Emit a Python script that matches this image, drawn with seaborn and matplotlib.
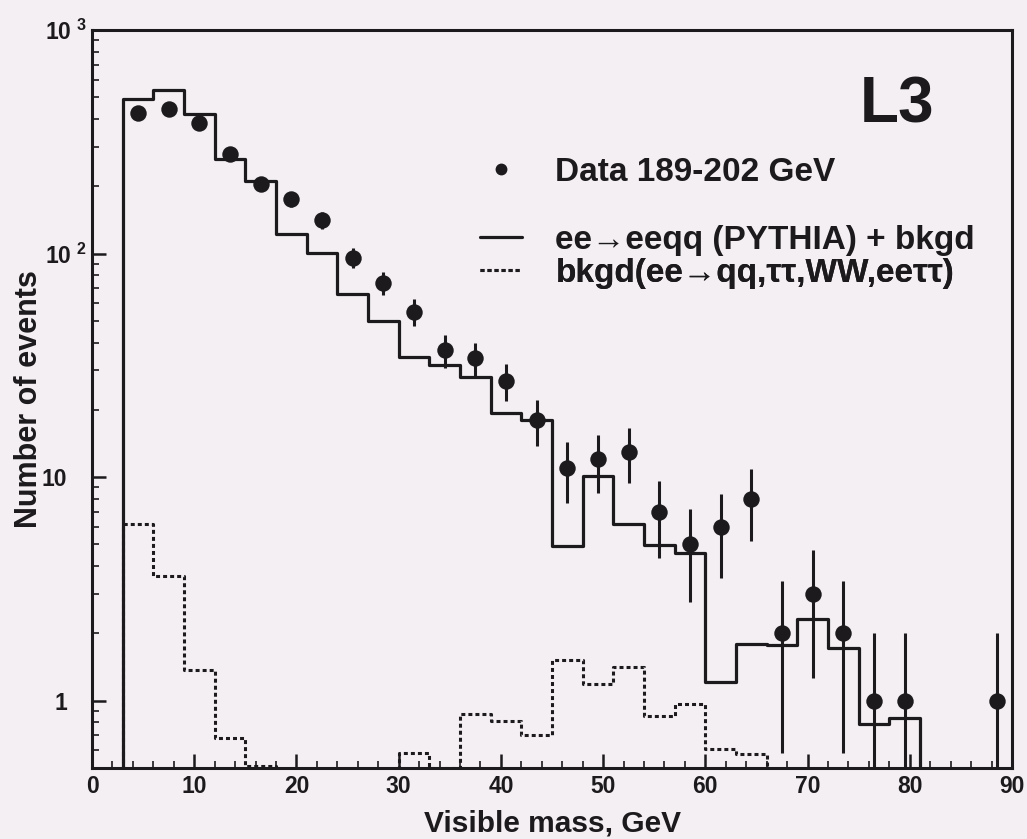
import numpy as np
import pandas as pd
import matplotlib
matplotlib.use("Agg")
import matplotlib.pyplot as plt
from matplotlib.ticker import FixedLocator, FixedFormatter, MultipleLocator, LogLocator, NullFormatter
from matplotlib.transforms import ScaledTranslation
from matplotlib.lines import Line2D
import seaborn as sns

# ---------------- data ----------------
bin_edges = list(range(0, 91, 3))            # visible mass bins, GeV
bin_centers = [(a + b) / 2 for a, b in zip(bin_edges[:-1], bin_edges[1:])]

mc_total = [0, 490, 540, 423, 266, 212, 122, 101, 66, 50,
            34.4, 31.8, 28, 19.4, 18.1, 4.9, 10.1, 6.2, 4.96, 4.6,
            1.21, 1.8, 1.77, 2.32, 1.73, 0.785, 0.833, 0, 0, 0]

bkgd = [0, 6.2, 3.6, 1.37, 0.68, 0.51, 0.45, 0, 0, 0,
        0.586, 0.5, 0.87, 0.81, 0.70, 1.52, 1.19, 1.41, 0.857, 0.966,
        0.607, 0.577, 0.45, 0, 0, 0, 0, 0, 0, 0]

data_counts = [0, 424, 445, 385, 280, 205, 175, 141, 96, 74,
               55, 37, 34, 27, 18, 11, 12, 13, 7, 5,
               6, 8, 2, 3, 2, 1, 1, 0, 0, 1]

y_ticks = [1, 10, 100, 1000]
y_ticklabels = ["1", "10", r"$\mathbf{10^{\ 2}}$", r"$\mathbf{10^{\ 3}}$"]
x_ticks = [0, 10, 20, 30, 40, 50, 60, 70, 80, 90]

label_data = "Data 189-202 GeV"
label_mc = "ee\u2192eeqq (PYTHIA) + bkgd"
label_bkgd = "bkgd(ee\u2192qq,\u03c4\u03c4,WW,ee\u03c4\u03c4)"

# ---------------- style ----------------
bg = "#f3eff3"
ink = "#1c1a1d"

sns.set_theme(style="ticks")
plt.rcParams["font.family"] = ["Liberation Sans", "DejaVu Sans"]
plt.rcParams["font.weight"] = "bold"
plt.rcParams["mathtext.fontset"] = "custom"
plt.rcParams["mathtext.bf"] = "Liberation Sans:bold"
plt.rcParams["mathtext.rm"] = "Liberation Sans:bold"

fig = plt.figure(figsize=(10.27, 8.39), dpi=100, facecolor=bg)
ax = fig.add_axes([0.0896, 0.0846, 0.8958, 0.8796])
ax.set_facecolor(bg)

hist_df = pd.DataFrame({"mass": bin_centers, "mc": mc_total, "bkgd": bkgd})

sns.histplot(data=hist_df, x="mass", weights="mc", bins=bin_edges,
             element="step", fill=False, color=ink, linewidth=2.3, ax=ax)
sns.histplot(data=hist_df, x="mass", weights="bkgd", bins=bin_edges,
             element="step", fill=False, color=ink, linewidth=2.2,
             linestyle=(0, (1.3, 1.0)), ax=ax)

counts = np.array(data_counts, dtype=float)
centers = np.array(bin_centers)
mask = counts > 0
dx = centers[mask]
dy = counts[mask]
err = np.sqrt(dy)
ax.errorbar(dx, dy, yerr=err, fmt="none", ecolor=ink, elinewidth=2.2, capsize=0, zorder=3)
sns.scatterplot(x=dx, y=dy, color=ink, s=140, edgecolor=ink, linewidth=0, zorder=4, ax=ax)

ax.set_yscale("log", nonpositive="clip")
ax.set_xlim(0, 90)
ax.set_ylim(0.5, 1000)

ax.xaxis.set_major_locator(FixedLocator(x_ticks))
ax.xaxis.set_minor_locator(MultipleLocator(2))
ax.yaxis.set_major_locator(FixedLocator(y_ticks))
ax.yaxis.set_major_formatter(FixedFormatter(y_ticklabels))
ax.yaxis.set_minor_locator(LogLocator(base=10, subs=np.arange(2, 10)))
ax.yaxis.set_minor_formatter(NullFormatter())

ax.tick_params(axis="both", which="both", direction="in", color=ink,
               top=False, right=False)
ax.tick_params(axis="both", which="major", length=10, width=1.8, labelsize=16.5, labelcolor=ink)
ax.tick_params(axis="both", which="minor", length=5, width=1.2)
ax.tick_params(axis="y", which="major", pad=4)
ax.tick_params(axis="x", which="major", pad=5)
for lab in ax.get_xticklabels() + ax.get_yticklabels():
    lab.set_fontweight("bold")

# plain labels ("1", "10") line up with the base "10" of the powers, not with the exponent
shift = ScaledTranslation(-0.19, 0, fig.dpi_scale_trans)
for tick, txt in zip(ax.yaxis.get_major_ticks(), y_ticklabels):
    if "^" not in txt:
        tick.label1.set_transform(tick.label1.get_transform() + shift)

for sp in ax.spines.values():
    sp.set_color(ink)
    sp.set_linewidth(2.2)

ax.set_xlabel("Visible mass, GeV", fontsize=21.5, fontweight="bold", color=ink, labelpad=8)
ax.set_ylabel("Number of events", fontsize=22, fontweight="bold", color=ink)
ax.yaxis.set_label_coords(-0.052, 0.5)

ax.text(0.875, 0.8753, "L3", transform=ax.transAxes, fontsize=46, fontweight="bold",
        color=ink, ha="center", va="baseline")

h_data = Line2D([], [], marker="o", ls="none", color=ink, ms=7.5)
h_mc = Line2D([], [], color=ink, lw=2.3)
h_bk = Line2D([], [], color=ink, lw=2.2, ls=(0, (1.3, 1.0)))

legend_rows = [(h_data, label_data, 0.8076),
               (h_mc, label_mc, 0.7154),
               (h_bk, label_bkgd, 0.6707)]
for handle, label, ypos in legend_rows:
    leg = ax.legend([handle], [label], loc="center left", bbox_to_anchor=(0.4217, ypos),
                    frameon=False, fontsize=24, handlelength=1.26, handletextpad=1.0,
                    borderpad=0, borderaxespad=0)
    for t in leg.get_texts():
        t.set_fontweight("bold"); t.set_color(ink)
    ax.add_artist(leg)

fig.savefig("out.png", dpi=100, facecolor=bg)
